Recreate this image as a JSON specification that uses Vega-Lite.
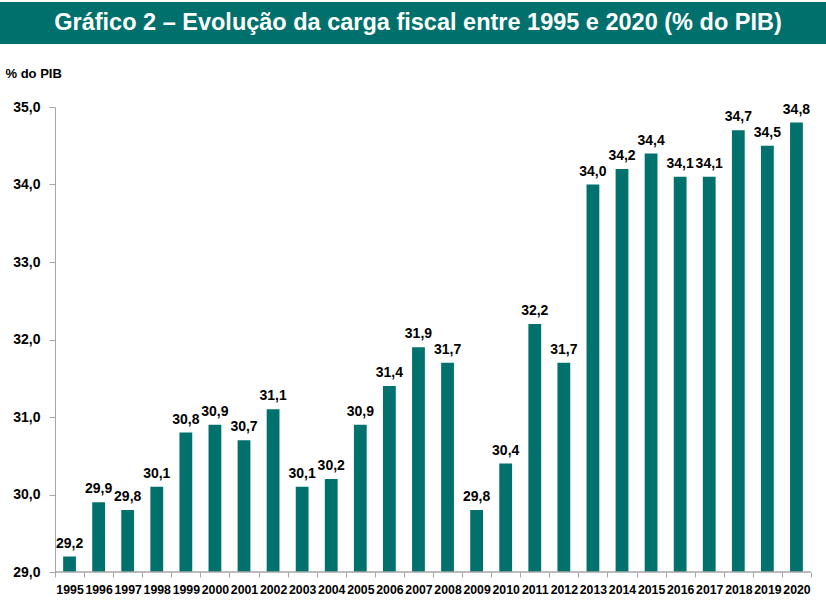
{
  "$schema": "https://vega.github.io/schema/vega-lite/v6.json",
  "padding": {"left": 0, "top": 2, "right": 0, "bottom": 0},
  "background": "white",
  "spacing": 23,
  "config": {
    "view": {"stroke": null},
    "locale": {"number": {"decimal": ",", "thousands": ".", "grouping": [3], "currency": ["", " €"]}}
  },
  "vconcat": [
    {
      "width": 826,
      "height": 42,
      "view": {"fill": "#00706c", "stroke": null},
      "data": {"values": [{"titulo": "Gráfico 2 – Evolução da carga fiscal entre 1995 e 2020 (% do PIB)"}]},
      "mark": {"type": "text", "color": "white", "font": "Liberation Sans", "fontWeight": "bold", "fontSize": 23.5, "align": "center", "baseline": "middle", "dx": 5},
      "encoding": {"text": {"field": "titulo", "type": "nominal"}}
    },
    {
      "width": 811,
      "height": 465,
      "data": {"values": [
        {"ano": "1995", "valor": 29.2},
        {"ano": "1996", "valor": 29.9},
        {"ano": "1997", "valor": 29.8},
        {"ano": "1998", "valor": 30.1},
        {"ano": "1999", "valor": 30.8},
        {"ano": "2000", "valor": 30.9},
        {"ano": "2001", "valor": 30.7},
        {"ano": "2002", "valor": 31.1},
        {"ano": "2003", "valor": 30.1},
        {"ano": "2004", "valor": 30.2},
        {"ano": "2005", "valor": 30.9},
        {"ano": "2006", "valor": 31.4},
        {"ano": "2007", "valor": 31.9},
        {"ano": "2008", "valor": 31.7},
        {"ano": "2009", "valor": 29.8},
        {"ano": "2010", "valor": 30.4},
        {"ano": "2011", "valor": 32.2},
        {"ano": "2012", "valor": 31.7},
        {"ano": "2013", "valor": 34.0},
        {"ano": "2014", "valor": 34.2},
        {"ano": "2015", "valor": 34.4},
        {"ano": "2016", "valor": 34.1},
        {"ano": "2017", "valor": 34.1},
        {"ano": "2018", "valor": 34.7},
        {"ano": "2019", "valor": 34.5},
        {"ano": "2020", "valor": 34.8}
      ]},
      "encoding": {
        "x": {
          "field": "ano", "type": "ordinal",
          "scale": {"paddingInner": 0, "paddingOuter": 0.9458, "align": 1},
          "axis": {
            "title": null, "labelAngle": 0, "tickBand": "extent", "tickSize": 5,
            "labelPadding": 6, "labelFont": "Liberation Sans", "labelFontWeight": "bold",
            "labelFontSize": 12.3, "labelColor": "black", "labelOverlap": false,
            "domain": false, "tickColor": "#a6a6a6", "grid": false
          }
        },
        "y": {
          "field": "valor", "type": "quantitative",
          "scale": {"domain": [29, 35], "nice": false, "zero": false},
          "axis": {
            "values": [29, 30, 31, 32, 33, 34, 35], "format": ".1f", "grid": false,
            "offset": -55,
            "tickSize": 6, "labelPadding": 9, "labelFont": "Liberation Sans",
            "labelFontWeight": "bold", "labelFontSize": 14, "labelColor": "black",
            "domainColor": "#a6a6a6", "tickColor": "#a6a6a6",
            "title": "% do PIB", "titleAngle": 0, "titleAlign": "left", "titleBaseline": "middle",
            "titleX": -50, "titleY": -34, "titleFont": "Liberation Sans", "titleFontWeight": "bold",
            "titleFontSize": 13, "titleColor": "black"
          }
        }
      },
      "layer": [
        {
          "mark": {"type": "bar", "color": "#00716c", "width": {"band": 0.44}},
          "encoding": {"y2": {"datum": 29}}
        },
        {
          "mark": {"type": "bar", "fill": "transparent", "stroke": "#a6a6a6", "strokeWidth": 1, "width": {"band": 1}},
          "encoding": {"y": {"datum": 29}, "y2": {"datum": 29}}
        },
        {
          "mark": {"type": "text", "baseline": "alphabetic", "dy": -9, "font": "Liberation Sans", "fontWeight": "bold", "fontSize": 14, "color": "black"},
          "encoding": {"text": {"field": "valor", "type": "quantitative", "format": ".1f"}}
        }
      ]
    }
  ]
}
